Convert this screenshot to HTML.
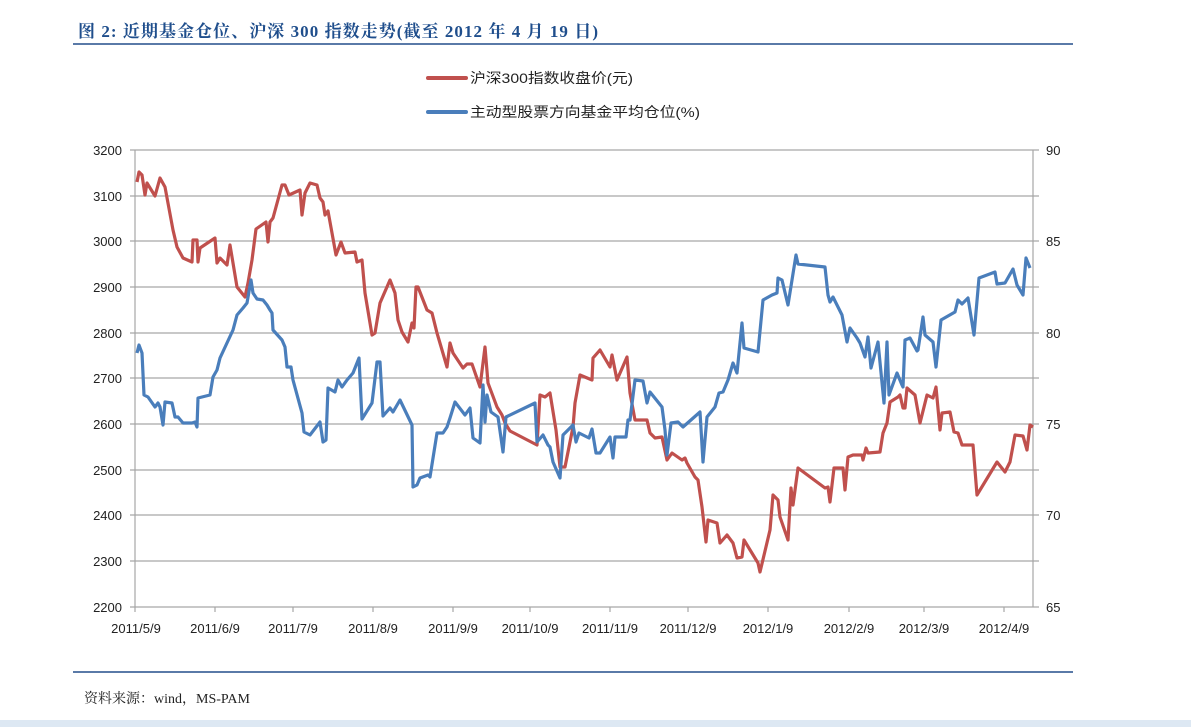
<!DOCTYPE html>
<html><head><meta charset="utf-8"><style>
body{margin:0;background:#fff;width:1191px;height:727px;overflow:hidden;font-family:"Liberation Sans","Noto Sans CJK SC",sans-serif}
svg{position:absolute;left:0;top:0}
</style></head><body>
<svg width="1191" height="727" viewBox="0 0 1191 727" xmlns="http://www.w3.org/2000/svg">
<text x="78" y="37" font-family="Liberation Serif,'Noto Serif CJK SC',serif" font-weight="bold" font-size="17" fill="#1f4e8c" textLength="520" lengthAdjust="spacing">图 2:  近期基金仓位、沪深 300 指数走势(截至 2012 年 4 月 19 日)</text>
<line x1="73" y1="44" x2="1073" y2="44" stroke="#5a7aa8" stroke-width="2"/>
<line x1="428" y1="78" x2="466" y2="78" stroke="#c0504d" stroke-width="4" stroke-linecap="round"/>
<text x="470" y="83" font-size="14" fill="#222" textLength="163" lengthAdjust="spacingAndGlyphs">沪深300指数收盘价(元)</text>
<line x1="428" y1="112" x2="466" y2="112" stroke="#4a7ebb" stroke-width="4" stroke-linecap="round"/>
<text x="470" y="117" font-size="14" fill="#222" textLength="230" lengthAdjust="spacingAndGlyphs">主动型股票方向基金平均仓位(%)</text>
<g stroke="#a6a6a6" stroke-width="1.2">
<line x1="130" y1="150" x2="1039" y2="150"/><line x1="130" y1="196" x2="1039" y2="196"/><line x1="130" y1="241" x2="1039" y2="241"/><line x1="130" y1="287" x2="1039" y2="287"/><line x1="130" y1="333" x2="1039" y2="333"/><line x1="130" y1="378" x2="1039" y2="378"/><line x1="130" y1="424" x2="1039" y2="424"/><line x1="130" y1="470" x2="1039" y2="470"/><line x1="130" y1="515" x2="1039" y2="515"/><line x1="130" y1="561" x2="1039" y2="561"/><line x1="130" y1="607" x2="1039" y2="607"/>
<line x1="135" y1="150" x2="135" y2="612"/><line x1="1033" y1="150" x2="1033" y2="607"/>
<line x1="215" y1="607" x2="215" y2="612"/><line x1="293" y1="607" x2="293" y2="612"/><line x1="373" y1="607" x2="373" y2="612"/><line x1="453" y1="607" x2="453" y2="612"/><line x1="530" y1="607" x2="530" y2="612"/><line x1="610" y1="607" x2="610" y2="612"/><line x1="688" y1="607" x2="688" y2="612"/><line x1="768" y1="607" x2="768" y2="612"/><line x1="849" y1="607" x2="849" y2="612"/><line x1="924" y1="607" x2="924" y2="612"/><line x1="1004" y1="607" x2="1004" y2="612"/>
</g>
<g font-size="13" fill="#222" text-anchor="end">
<text x="122" y="155">3200</text><text x="122" y="201">3100</text><text x="122" y="246">3000</text><text x="122" y="292">2900</text><text x="122" y="338">2800</text><text x="122" y="383">2700</text><text x="122" y="429">2600</text><text x="122" y="475">2500</text><text x="122" y="520">2400</text><text x="122" y="566">2300</text><text x="122" y="612">2200</text>
</g>
<g font-size="13" fill="#222">
<text x="1046" y="155">90</text><text x="1046" y="246">85</text><text x="1046" y="338">80</text><text x="1046" y="429">75</text><text x="1046" y="520">70</text><text x="1046" y="612">65</text>
</g>
<g font-size="13" fill="#222" text-anchor="middle">
<text x="136" y="633">2011/5/9</text><text x="215" y="633">2011/6/9</text><text x="293" y="633">2011/7/9</text><text x="373" y="633">2011/8/9</text><text x="453" y="633">2011/9/9</text><text x="530" y="633">2011/10/9</text><text x="610" y="633">2011/11/9</text><text x="688" y="633">2011/12/9</text><text x="768" y="633">2012/1/9</text><text x="849" y="633">2012/2/9</text><text x="924" y="633">2012/3/9</text><text x="1004" y="633">2012/4/9</text>
</g>
<polyline fill="none" stroke="#c0504d" stroke-width="3.2" stroke-linejoin="round" points="137,182 139,172 142,175 145,195 147,183 155,196 160,178 165,187 173,230 177,247 183,258 192,262 193,240 197,240 198,262 200,248 215,238 217,263 220,258 227,265 230,245 237,287 245,297 248,283 252,260 256,229 266,222 268,242 270,222 273,218 282,185 285,185 289,195 300,190 302,215 305,193 310,183 317,185 320,198 323,202 325,215 328,211 336,255 341,242 345,253 355,252 357,262 362,260 365,293 372,335 375,333 380,303 390,280 395,293 398,320 402,332 408,342 412,323 414,328 416,287 418,287 427,310 432,313 437,333 447,367 450,343 453,353 463,368 467,364 472,364 480,387 485,347 488,383 497,407 502,415 505,423 510,431 537,445 540,395 545,397 550,393 556,430 560,467 565,467 573,427 575,403 580,375 592,380 593,358 600,350 610,367 612,355 617,380 627,357 630,393 635,420 647,420 650,433 655,438 662,437 667,460 672,453 682,460 685,458 687,463 695,477 698,480 702,507 706,542 708,520 717,523 720,543 727,535 733,543 737,558 742,557 744,540 758,563 760,572 770,530 773,495 778,500 780,517 788,540 791,488 793,505 798,468 825,488 828,487 830,502 834,468 843,468 845,490 848,457 853,455 862,455 863,460 866,448 868,453 880,452 883,433 887,423 890,402 898,397 900,395 903,408 905,408 907,388 915,395 920,423 927,395 933,398 936,387 940,430 942,413 950,412 954,432 958,433 962,445 973,445 977,495 997,462 1005,472 1010,462 1015,435 1023,436 1027,450 1030,425 1033,427"/>
<polyline fill="none" stroke="#4a7ebb" stroke-width="3.2" stroke-linejoin="round" points="137,353 139,345 142,353 144,395 148,397 155,407 158,403 160,407 163,425 165,402 172,403 175,417 178,417 183,423 192,423 195,422 197,427 198,398 210,395 213,377 217,370 220,358 233,330 237,315 243,308 247,303 251,280 253,293 257,299 263,300 267,305 270,310 272,313 273,330 282,340 285,347 287,367 291,367 293,380 302,413 304,432 310,435 320,422 323,442 326,440 328,388 335,392 338,380 342,387 347,380 353,373 359,358 362,419 372,403 377,362 380,362 383,416 390,408 393,412 400,400 412,425 413,487 417,485 420,478 428,475 430,477 437,433 443,433 447,427 450,418 455,402 465,415 470,408 473,438 480,443 483,385 485,422 487,395 491,412 498,417 503,452 506,417 535,403 537,442 543,435 548,445 550,447 553,462 560,478 563,435 573,425 576,442 579,433 589,438 592,429 596,453 600,453 610,437 613,458 615,437 626,437 628,420 630,420 635,380 643,381 647,403 650,392 662,407 665,430 667,455 671,423 678,422 683,427 700,412 703,462 707,417 715,407 719,393 723,392 728,380 733,363 737,373 742,323 744,348 758,352 763,300 772,295 777,293 778,278 782,280 788,305 796,255 798,264 825,267 828,295 830,302 833,297 842,315 847,342 850,328 857,338 860,343 865,357 868,337 871,368 878,342 884,403 887,342 889,395 897,373 902,385 903,387 905,340 910,338 917,351 918,350 923,317 925,335 933,342 936,367 941,320 955,312 958,300 962,304 968,298 974,335 979,278 995,272 997,284 1005,283 1013,269 1017,285 1023,295 1026,258 1030,268"/>
<line x1="73" y1="672" x2="1073" y2="672" stroke="#5a7aa8" stroke-width="2"/>
<text x="84" y="703" font-family="Liberation Serif,'Noto Serif CJK SC',serif" font-size="14" fill="#222">资料来源：wind，MS-PAM</text>
<rect x="0" y="720" width="1191" height="7" fill="#dde8f3"/>
</svg>
</body></html>
